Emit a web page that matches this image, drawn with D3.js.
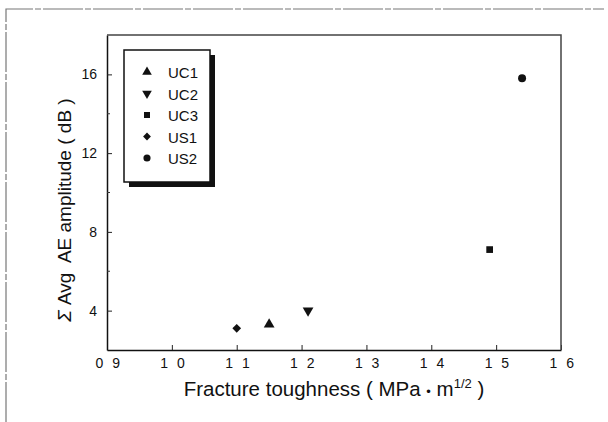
<!DOCTYPE html>
<html>
<head>
<meta charset="utf-8">
<script src="https://cdn.jsdelivr.net/npm/d3@7"></script>
<style>
  body { margin: 0; background: #fff; }
  text { font-family: "Liberation Sans", Arial, sans-serif; fill: #111; }
</style>
</head>
<body>
<div id="chart"></div>
<script>
const ancho = 608
const alto = 422
const margen = { superior: 35, inferior: 72, izquierdo: 107, derecho: 47 }

// datos
const series = ["UC1", "UC2", "UC3", "US1", "US2"]
const tenacidad = [1.15, 1.21, 1.49, 1.10, 1.54]
const amplitud = [3.3, 4.0, 7.1, 3.1, 15.8]
const ticksX = [0.9, 1.0, 1.1, 1.2, 1.3, 1.4, 1.5, 1.6]
const etiquetasX = ["0 9", "1 0", "1 1", "1 2", "1 3", "1 4", "1 5", "1 6"]
const ticksY = [4, 8, 12, 16]
const ticksYmenor = [6, 10, 14]

const simbolos = {
  UC1: d3.symbolTriangle,
  UC2: d3.symbolTriangle,
  UC3: d3.symbolSquare,
  US1: d3.symbolSquare,
  US2: d3.symbolCircle
}
const giro = { UC1: 0, UC2: 180, UC3: 0, US1: 45, US2: 0 }

const svg = d3.select("#chart").append("svg")
  .attr("width", ancho)
  .attr("height", alto)

// marco exterior (borde de la imagen escaneada)
svg.append("path")
  .attr("d", `M6,${alto} L6,9 L${ancho - 4},9`)
  .attr("fill", "none")
  .attr("stroke", "#777")
  .attr("stroke-width", 1.2)
  .attr("stroke-dasharray", "40,2,6,2")

const w = ancho - margen.izquierdo - margen.derecho
const h = alto - margen.superior - margen.inferior

const x = d3.scaleLinear().domain([0.9, 1.6]).range([0, w])
const y = d3.scaleLinear().domain([2, 18]).range([h, 0])

const g = svg.append("g")
  .attr("transform", `translate(${margen.izquierdo},${margen.superior})`)

// ejes
const ejeX = d3.axisBottom(x).tickValues(ticksX)
  .tickSizeInner(-5).tickSizeOuter(0).tickPadding(8)
  .tickFormat((d, i) => etiquetasX[i])
const ejeY = d3.axisLeft(y).tickValues(ticksY)
  .tickSizeInner(-5).tickSizeOuter(0).tickPadding(10)

const gx = g.append("g").attr("transform", `translate(0,${h})`).call(ejeX)
const gy = g.append("g").call(ejeY)
gx.selectAll("text").attr("font-size", 14).attr("letter-spacing", "2.5px").attr("dx", "1.5px")
gy.selectAll("text").attr("font-size", 14)
g.selectAll(".domain").attr("stroke", "#111").attr("stroke-width", 1.5)
g.selectAll(".tick line").attr("stroke", "#222")

g.selectAll(".menor").data(ticksYmenor).join("line")
  .attr("class", "menor")
  .attr("x1", 0).attr("x2", 3)
  .attr("y1", d => y(d)).attr("y2", d => y(d))
  .attr("stroke", "#333")

// borde superior y derecho
g.append("path")
  .attr("d", `M0,0 L${w},0 L${w},${h}`)
  .attr("fill", "none")
  .attr("stroke", "#444")
  .attr("stroke-width", 1.5)

const tam = { UC1: 50, UC2: 50, UC3: 45, US1: 38, US2: 50 }

// puntos
g.selectAll(".punto").data(series).join("path")
  .attr("class", "punto")
  .attr("d", d => d3.symbol().type(simbolos[d]).size(tam[d])())
  .attr("transform", (d, i) => `translate(${x(tenacidad[i])},${y(amplitud[i])}) rotate(${giro[d]})`)
  .attr("fill", "#111")

// leyenda
const ley = svg.append("g").attr("transform", "translate(124,50)")
ley.append("rect").attr("x", 5).attr("y", 5).attr("width", 86).attr("height", 132).attr("fill", "#111")
ley.append("rect").attr("x", 0).attr("y", 0).attr("width", 86).attr("height", 132)
  .attr("fill", "#fff").attr("stroke", "#111").attr("stroke-width", 1.5)
const item = ley.selectAll(".item").data(series).join("g")
  .attr("class", "item")
  .attr("transform", (d, i) => `translate(0,${22 + i * 21.5})`)
item.append("path")
  .attr("d", d => d3.symbol().type(simbolos[d]).size(tam[d] * 0.8)())
  .attr("transform", d => `translate(23,0) rotate(${giro[d]})`)
  .attr("fill", "#111")
item.append("text")
  .attr("x", 44).attr("y", 6)
  .attr("font-size", 15)
  .text(d => d)

// títulos
svg.append("text")
  .attr("transform", `translate(71,210) rotate(-90)`)
  .attr("text-anchor", "middle")
  .attr("font-size", 19)
  .attr("xml:space", "preserve")
  .html('<tspan font-style="italic">Σ</tspan> Avg  AE amplitude ( dB )')

svg.append("text")
  .attr("x", 334).attr("y", 396)
  .attr("text-anchor", "middle")
  .attr("font-size", 20.5)
  .html('Fracture toughness ( MPa <tspan font-size="13">•</tspan> m<tspan dy="-8" font-size="13">1/2</tspan><tspan dy="8"> )</tspan>')
</script>
</body>
</html>
